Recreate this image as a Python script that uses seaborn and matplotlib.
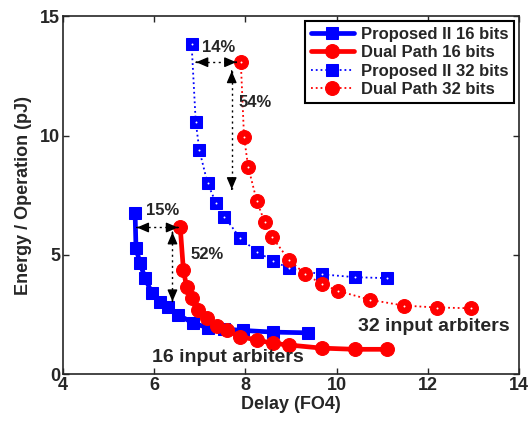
import matplotlib
matplotlib.use("Agg")
import matplotlib.pyplot as plt
import seaborn as sns
import pandas as pd

# ---- data ----
p16_delay = [5.58, 5.60, 5.69, 5.80, 5.95, 6.13, 6.31, 6.53, 6.86, 7.19, 7.52, 7.95, 8.61, 9.38]
p16_energy = [6.74, 5.28, 4.65, 4.02, 3.40, 3.05, 2.81, 2.49, 2.14, 1.95, 1.90, 1.84, 1.77, 1.74]

d16_delay = [6.57, 6.64, 6.71, 6.82, 6.97, 7.15, 7.37, 7.59, 7.88, 8.25, 8.61, 8.96, 9.67, 10.40, 11.10]
d16_energy = [6.17, 4.37, 3.67, 3.19, 2.70, 2.35, 2.03, 1.86, 1.58, 1.44, 1.30, 1.23, 1.10, 1.05, 1.05]

p32_delay = [6.82, 6.91, 6.99, 7.17, 7.36, 7.54, 7.88, 8.25, 8.61, 8.96, 9.67, 10.40, 11.10]
p32_energy = [13.83, 10.58, 9.39, 8.00, 7.16, 6.60, 5.72, 5.14, 4.75, 4.44, 4.19, 4.07, 4.03]

d32_delay = [7.90, 7.97, 8.06, 8.25, 8.42, 8.59, 8.96, 9.31, 9.67, 10.04, 10.74, 11.48, 12.21, 12.94]
d32_energy = [13.06, 9.95, 8.70, 7.26, 6.39, 5.74, 4.78, 4.21, 3.79, 3.49, 3.12, 2.88, 2.80, 2.77]

series_names = ["Proposed II 16 bits", "Dual Path 16 bits", "Proposed II 32 bits", "Dual Path 32 bits"]

x_ticks = [4, 6, 8, 10, 12, 14]
y_ticks = [0, 5, 10, 15]

# ---- style ----
sns.set_style("ticks")
plt.rcParams["font.family"] = ["Liberation Sans", "DejaVu Sans"]
plt.rcParams["font.weight"] = "bold"

fig = plt.figure(figsize=(5.3, 4.24), dpi=100)
ax = fig.add_axes([0.119, 0.117, 0.860, 0.845])

BLUE = (0, 0, 1)
RED = (1, 0, 0)

def draw(xs, ys, name, color, marker, ls, lw, ms, dot):
    df = pd.DataFrame({"x": xs, "y": ys})
    sns.lineplot(data=df, x="x", y="y", ax=ax, sort=False, color=color,
                 linestyle=ls, linewidth=lw, marker=marker, markersize=ms,
                 markeredgecolor=color, markerfacecolor=color, label=name,
                 estimator=None, legend=False)
    if dot:
        sns.scatterplot(data=df, x="x", y="y", ax=ax, color="white", s=2,
                        linewidth=0, legend=False, zorder=5)

draw(p16_delay, p16_energy, series_names[0], BLUE, "s", "-", 3.4, 8.5, False)
draw(d16_delay, d16_energy, series_names[1], RED, "o", "-", 3.4, 10, False)
draw(p32_delay, p32_energy, series_names[2], BLUE, "s", ":", 1.3, 8.5, True)
draw(d32_delay, d32_energy, series_names[3], RED, "o", ":", 1.3, 10, True)

# ---- annotations: dotted double arrows ----
def dbl_arrow(x0, y0, x1, y1):
    ax.plot([x0, x1], [y0, y1], color="black", linestyle=(0, (1.5, 2.5)), linewidth=1.0)
    for (xa, ya, xb, yb) in [(x0, y0, x1, y1), (x1, y1, x0, y0)]:
        fx = xa + (xb - xa) * 0.001
        fy = ya + (yb - ya) * 0.001
        ax.annotate("", xy=(xa, ya), xytext=(fx, fy),
                    arrowprops=dict(arrowstyle="-|>,head_length=0.7,head_width=0.3",
                                    color="black", lw=1.0, shrinkA=0, shrinkB=0))

dbl_arrow(5.62, 6.15, 6.52, 6.15)
dbl_arrow(6.40, 5.95, 6.40, 3.05)
dbl_arrow(6.92, 13.07, 7.80, 13.07)
dbl_arrow(7.70, 12.70, 7.70, 7.75)

tk = dict(fontsize=12, fontweight="bold", ha="center", va="center")
ax.text(6.19, 6.88, "15%", **tk)
ax.text(7.16, 5.0, "52%", **tk)
ax.text(7.42, 13.7, "14%", **tk)
ax.text(8.22, 11.4, "54%", **tk)
ax.text(7.62, 0.70, "16 input arbiters", fontsize=14, fontweight="bold", ha="center", va="center")
ax.text(12.13, 2.0, "32 input arbiters", fontsize=14, fontweight="bold", ha="center", va="center")

# ---- axes ----
ax.set_xlim(4, 14)
ax.set_ylim(0, 15)
ax.set_xticks(x_ticks)
ax.set_yticks(y_ticks)
ax.tick_params(direction="in", length=4, width=1, labelsize=13, top=True, right=True, pad=2)
for lab in ax.get_xticklabels() + ax.get_yticklabels():
    lab.set_fontweight("bold")
for s in ax.spines.values():
    s.set_linewidth(1.2)
    s.set_visible(True)
ax.set_xlabel("Delay (FO4)", fontsize=13, fontweight="bold", labelpad=1)
ax.set_ylabel("Energy / Operation (pJ)", fontsize=13, fontweight="bold", labelpad=6)

leg = ax.legend(loc="upper right", frameon=True, fancybox=False,
                edgecolor="black", framealpha=1, handlelength=2.6,
                borderaxespad=0.3, labelspacing=0.2, handletextpad=0.4,
                borderpad=0.35, prop={"weight": "bold", "size": 12})
leg.get_frame().set_linewidth(1.5)

fig.savefig("out.png", dpi=100)
